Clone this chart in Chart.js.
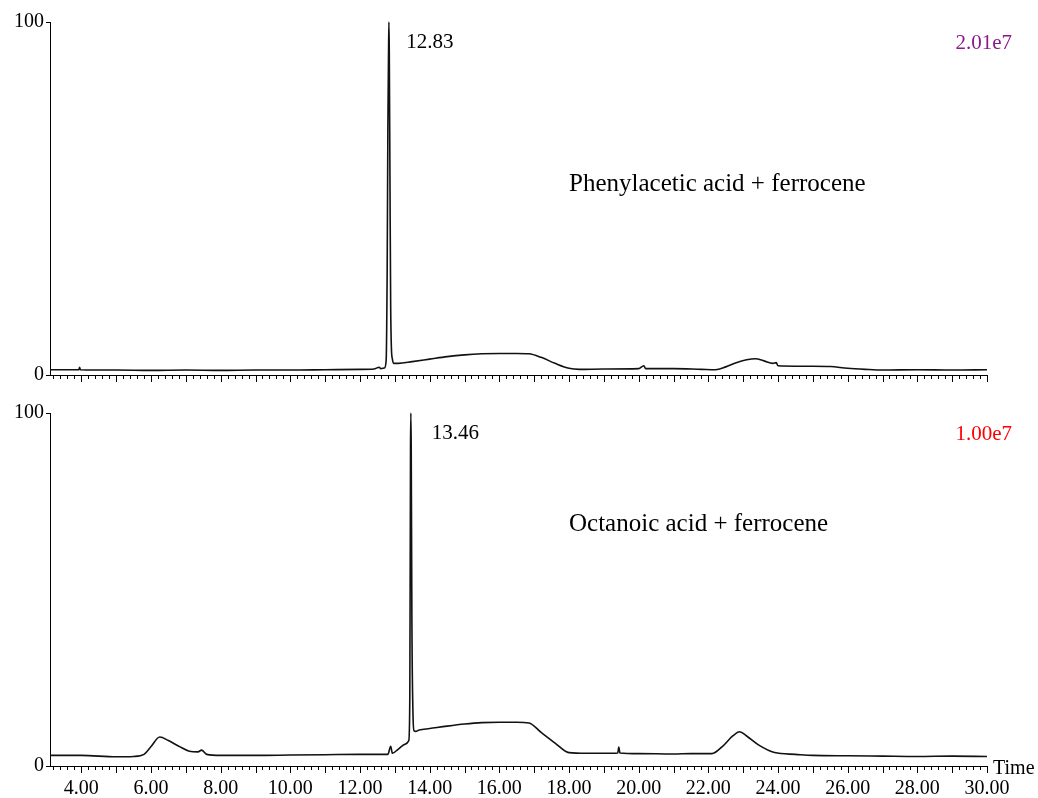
<!DOCTYPE html>
<html><head><meta charset="utf-8">
<script src="https://cdn.jsdelivr.net/npm/chart.js@4.4.1/dist/chart.umd.min.js"></script>
<style>
html,body{margin:0;padding:0;background:#fff;}
#wrap{position:relative;width:1038px;height:798px;overflow:hidden;}
canvas{position:absolute;left:0;}
</style></head><body>
<div id="wrap">
<canvas id="c1" width="1038" height="399" style="top:0"></canvas>
<canvas id="c2" width="1038" height="399" style="top:399px"></canvas>
</div>
<script>
// ---------- data ----------
const xMin = 3.1, xMax = 30.0;
const xLabelTicks = [4, 6, 8, 10, 12, 14, 16, 18, 20, 22, 24, 26, 28, 30];
const yTicks = [0, 100];

const topTimes  = [3.1, 3.5, 3.93, 3.95, 3.97, 5.0, 6.0, 7.0, 8.0, 9.0, 10.0, 11.0, 12.0, 12.4, 12.55, 12.6, 12.7, 12.75, 12.78, 12.80, 12.82, 12.83, 12.84, 12.86, 12.88, 12.90, 12.93, 12.97, 13.1, 13.5, 14.0, 14.5, 15.0, 15.5, 16.0, 16.5, 16.85, 17.2, 17.6, 18.0, 18.3, 19.0, 20.0, 20.15, 20.2, 21.0, 21.8, 22.2, 22.5, 22.8, 23.1, 23.35, 23.6, 23.85, 23.95, 24.0, 24.5, 25.0, 25.5, 26.0, 26.5, 27.0, 28.0, 29.0, 30.0];
const topValues = [1.5, 1.5, 1.5, 2.2, 1.5, 1.4, 1.3, 1.4, 1.3, 1.4, 1.4, 1.5, 1.6, 1.7, 2.2, 1.8, 2.0, 4, 30, 70, 92, 100, 92, 55, 20, 8, 4.5, 3.3, 3.3, 3.8, 4.5, 5.2, 5.7, 6.0, 6.1, 6.1, 6.0, 5.0, 3.3, 1.9, 1.6, 1.7, 1.8, 2.6, 1.8, 1.8, 1.6, 1.5, 2.3, 3.5, 4.3, 4.6, 4.0, 3.3, 3.5, 2.6, 2.5, 2.5, 2.4, 1.9, 1.6, 1.4, 1.5, 1.4, 1.5];

const bottomTimes  = [3.1, 4.0, 5.0, 5.5, 5.8, 6.0, 6.25, 6.5, 6.8, 7.1, 7.35, 7.45, 7.6, 8.0, 9.0, 10.0, 11.0, 12.0, 12.8, 12.88, 12.93, 13.1, 13.3, 13.4, 13.43, 13.45, 13.46, 13.47, 13.49, 13.52, 13.55, 13.6, 13.7, 14.0, 14.5, 15.0, 15.5, 16.0, 16.5, 16.85, 17.2, 17.6, 18.0, 18.5, 19.0, 19.4, 19.43, 19.46, 20.0, 21.0, 21.5, 22.1, 22.4, 22.7, 22.9, 23.1, 23.45, 23.9, 24.5, 25.0, 26.0, 27.0, 28.0, 29.0, 30.0];
const bottomValues = [3.0, 3.0, 2.6, 2.7, 3.3, 5.5, 8.2, 7.2, 5.6, 4.2, 4.0, 4.5, 3.3, 3.0, 3.0, 3.1, 3.2, 3.3, 3.3, 5.6, 3.6, 4.8, 6.2, 7.2, 20, 90, 100, 90, 40, 15, 10, 9.8, 10.2, 10.6, 11.3, 11.9, 12.3, 12.4, 12.4, 12.2, 9.5, 6.5, 3.8, 3.6, 3.6, 3.7, 5.4, 3.7, 3.5, 3.4, 3.5, 3.5, 5.5, 8.5, 9.7, 8.5, 5.9, 3.8, 3.3, 3.0, 2.9, 2.8, 2.7, 2.8, 2.7];

const topPeak = {time: 12.83, label: '12.83'};
const bottomPeak = {time: 13.46, label: '13.46'};
const topTitle = 'Phenylacetic acid + ferrocene';
const bottomTitle = 'Octanoic acid + ferrocene';
const topScaleText = '2.01e7';
const bottomScaleText = '1.00e7';
const xTitle = 'Time';

// ---------- styles ----------
const FONT = '"Liberation Serif", "Times New Roman", serif';
const minorStep = 0.2, majorEvery = 5;

function makeTickPlugin() {
  return {
    id: 'xticks',
    afterDraw(chart) {
      const xs = chart.scales.x, ctx = chart.ctx, y0 = chart.chartArea.bottom;
      ctx.save();
      ctx.strokeStyle = '#000'; ctx.lineWidth = 1;
      const start = Math.ceil(xMin / minorStep - 1e-9), end = Math.floor(xMax / minorStep + 1e-9);
      for (let i = start; i <= end; i++) {
        const v = i * minorStep;
        const px = Math.round(xs.getPixelForValue(v)) + 0.5;
        const len = (i % majorEvery === 0) ? 7 : 4;
        ctx.beginPath(); ctx.moveTo(px, y0); ctx.lineTo(px, y0 + len); ctx.stroke();
      }
      ctx.restore();
    }
  };
}

function makeTextPlugin(cfg) {
  return {
    id: 'texts',
    afterDraw(chart) {
      const xs = chart.scales.x, ys = chart.scales.y, ctx = chart.ctx, ca = chart.chartArea;
      ctx.save();
      ctx.textBaseline = 'middle';
      ctx.fillStyle = '#000';
      ctx.textAlign = 'left';
      ctx.font = '21px ' + FONT;
      ctx.fillText(cfg.peak.label, xs.getPixelForValue(cfg.peak.time + cfg.peakDx), ys.getPixelForValue(cfg.peakY));
      ctx.font = '25px ' + FONT;
      ctx.fillText(cfg.title, xs.getPixelForValue(cfg.titleX), ys.getPixelForValue(cfg.titleY));
      ctx.textAlign = 'right';
      ctx.font = '21px ' + FONT;
      ctx.fillStyle = cfg.scaleColor;
      ctx.fillText(cfg.scaleText, ca.right + 25, ca.top + 21);
      if (cfg.xTitle) {
        ctx.fillStyle = '#000';
        ctx.textAlign = 'left';
        ctx.font = '20px ' + FONT;
        ctx.fillText(cfg.xTitle, ca.right + 6, ca.bottom + 3);
      }
      ctx.restore();
    }
  };
}

function buildChart(id, times, values, padTop, xHeight, showLabels, textCfg) {
  return new Chart(document.getElementById(id), {
    type: 'line',
    data: {
      datasets: [{
        data: times.map((t, i) => ({x: t, y: values[i]})),
        borderColor: '#111', borderWidth: 1.6, pointRadius: 0, cubicInterpolationMode: 'monotone',
        fill: false, clip: 6
      }]
    },
    options: {
      responsive: false, animation: false, devicePixelRatio: 1,
      layout: {padding: {top: padTop, right: 51, left: 0, bottom: 0}},
      plugins: {legend: {display: false}, tooltip: {enabled: false}},
      scales: {
        x: {
          type: 'linear', min: xMin, max: xMax,
          afterBuildTicks: s => { s.ticks = xLabelTicks.map(v => ({value: v})); },
          afterFit: s => { s.height = xHeight; },
          grid: {display: false, drawTicks: false},
          border: {display: true, color: '#000', width: 1},
          ticks: {display: showLabels, autoSkip: false, maxRotation: 0, padding: 11, color: '#000',
                  font: {family: FONT, size: 20}, callback: v => Number(v).toFixed(2)}
        },
        y: {
          type: 'linear', min: 0, max: 100,
          afterBuildTicks: s => { s.ticks = yTicks.map(v => ({value: v})); },
          afterFit: s => { s.width = 50; },
          grid: {display: true, drawOnChartArea: false, drawTicks: true, tickLength: 4, color: '#000'},
          border: {display: true, color: '#000', width: 1},
          ticks: {padding: 2, color: '#000', font: {family: FONT, size: 20}, callback: v => String(v)}
        }
      }
    },
    plugins: [makeTickPlugin(), makeTextPlugin(textCfg)]
  });
}

buildChart('c1', topTimes, topValues, 22, 24, false, {
  peak: topPeak, peakDx: 0.5, peakY: 94.3, title: topTitle, titleX: 18.0, titleY: 54.1,
  scaleText: topScaleText, scaleColor: '#8a1a8a'
});
buildChart('c2', bottomTimes, bottomValues, 13, 32, true, {
  peak: bottomPeak, peakDx: 0.6, peakY: 94.3, title: bottomTitle, titleX: 18.0, titleY: 68.4,
  scaleText: bottomScaleText, scaleColor: '#ff0000', xTitle: xTitle
});
</script>
</body></html>
